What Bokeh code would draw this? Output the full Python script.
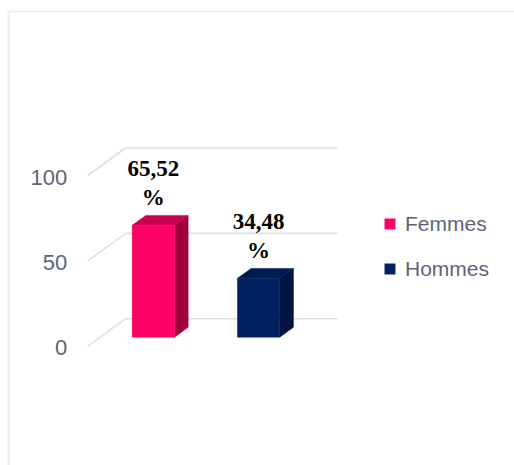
from bokeh.plotting import figure
from bokeh.models import Range1d, Legend, LegendItem
from bokeh.core.properties import value
from bokeh.embed import file_html
from bokeh.resources import INLINE

# ---- data ----
categories = ["Femmes", "Hommes"]
values = [65.52, 34.48]
front_colors = ["#FF0066", "#002060"]
top_colors = ["#C8004F", "#001A52"]
side_colors = ["#A0003E", "#00143F"]
tick_values = [0, 50, 100]
tick_labels = ["0", "50", "100"]

# ---- geometry (page pixels) ----
W, H = 514, 465
OX, OY = 0, 0                 # page offset of figure
K = 1.707                     # px per unit of value
Y0 = 345.7                    # page y of value 0 on front plane
WALL_X0 = 87.3                # page x of front-left floor corner
WALL_X1 = 337.0               # page x of right end of back wall
DEPTH_DX, DEPTH_DY = 38.0, 27.5
BAR_X0 = 119.2                # page x of first bar left at depth 0
BAR_PITCH = 105.3
BAR_W = 42.3
Z0, DZ = 0.328, 0.36

def X(px):
    return px - OX

def dz_y(z):
    return z * DEPTH_DY / K

p = figure(width=W, height=H, output_backend="svg", toolbar_location=None,
           x_range=Range1d(0, W), y_range=Range1d((Y0 - (OY + H)) / K, (Y0 - OY) / K),
           x_axis_type=None, y_axis_type=None, min_border=0)
p.grid.visible = False
p.outline_line_color = None
p.background_fill_color = "white"
p.border_fill_color = "white"

# chart area border (top and left)
top_y = (Y0 - 11) / K
bot_y = (Y0 - (OY + H)) / K
p.segment(x0=[X(7), X(8)], y0=[top_y, top_y], x1=[X(OX + W), X(8)], y1=[top_y, bot_y],
          line_color="#EEEEEE", line_width=2)

# back wall gridlines + side-wall diagonals
grid_col = "#DCE0E8"
p.segment(x0=[X(WALL_X0 + DEPTH_DX)] * len(tick_values),
          y0=[v + dz_y(1) for v in tick_values],
          x1=[X(WALL_X1)] * len(tick_values),
          y1=[v + dz_y(1) for v in tick_values],
          line_color=grid_col, line_width=1.6)
p.segment(x0=[X(WALL_X0)] * len(tick_values), y0=tick_values,
          x1=[X(WALL_X0 + DEPTH_DX)] * len(tick_values),
          y1=[v + dz_y(1) for v in tick_values],
          line_color=grid_col, line_width=1.6)

# tick labels
p.text(x=[X(66.7)] * len(tick_values), y=tick_values, text=tick_labels,
       text_align="right", text_baseline="middle", y_offset=1.5,
       text_font=value("Liberation Sans"), text_font_size="22px", text_color="#5B6579")

legend_items = []
for i, (cat, v) in enumerate(zip(categories, values)):
    left = X(BAR_X0 + BAR_PITCH * i + Z0 * DEPTH_DX)
    right = left + BAR_W
    bottom = dz_y(Z0)
    top = v + dz_y(Z0)
    bx = DZ * DEPTH_DX
    by = dz_y(DZ)
    # side face
    p.patch(x=[right, right, right + bx, right + bx], y=[bottom, top, top + by, bottom + by],
            fill_color=side_colors[i], line_color=side_colors[i], line_width=0.5)
    # top face
    p.patch(x=[left, right, right + bx, left + bx], y=[top, top, top + by, top + by],
            fill_color=top_colors[i], line_color=top_colors[i], line_width=0.5)
    # front face
    r = p.quad(left=[left], right=[right], bottom=[bottom], top=[top],
               fill_color=front_colors[i], line_color=front_colors[i], line_width=0.5)
    legend_items.append(LegendItem(label=cat, renderers=[r]))
    # data label
    lab = f"{v:.2f}".replace(".", ",") + "\n%"
    p.text(x=[(left + right) / 2], y=[top], text=[lab], text_align="center",
           text_baseline="bottom", y_offset=-15, text_line_height=1.16,
           text_font=value("Liberation Serif"), text_font_style="bold",
           text_font_size="23px", text_color="#000000")

legend = Legend(items=legend_items, location=(383, 184),
                glyph_width=13, glyph_height=13, label_height=25, spacing=20,
                label_standoff=9, padding=10, border_line_color=None,
                background_fill_alpha=0,
                label_text_font="Liberation Sans", label_text_font_size="21px",
                label_text_color="#5B6579")
p.add_layout(legend, "center")

open("out.html", "w").write(file_html(p, INLINE))
